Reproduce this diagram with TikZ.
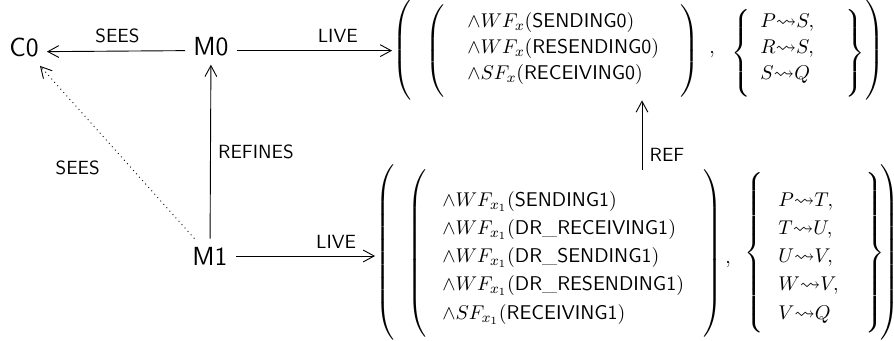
\documentclass[tikz,border=0pt]{standalone}
\usepackage{amssymb}
\usepackage{graphicx}
\usetikzlibrary{arrows.meta}
\newsavebox{\dlbox}
\newcommand{\ldm}[2]{\sbox{\dlbox}{$\nulldelimiterspace=0pt\delimiterfactor=1000\delimitershortfall=0pt\left#1\vcenter{\hbox{\vrule height #2 width 0pt}}\right.$}\resizebox*{\wd\dlbox}{#2}{\usebox{\dlbox}}}
\newcommand{\rdm}[2]{\sbox{\dlbox}{$\nulldelimiterspace=0pt\delimiterfactor=1000\delimitershortfall=0pt\left.\vcenter{\hbox{\vrule height #2 width 0pt}}\right#1$}\resizebox*{\wd\dlbox}{#2}{\usebox{\dlbox}}}
\begin{document}
\begin{tikzpicture}[x=0.55pt,y=-0.55pt,
  obj/.style={font=\sffamily\fontsize{14.4}{17}\selectfont, inner sep=4.4pt},
  lbl/.style={font=\sffamily\fontsize{10.5}{12}\selectfont, inner sep=4pt},
  arr/.style={-{Straight Barb[length=6pt,width=6.5pt]}, line width=0.5pt},
  dl/.style={inner sep=0pt, font=\fontsize{12}{14.4}\selectfont},
  arrn/.style={inner sep=0pt, anchor=west, font=\fontsize{11.3}{14.4}\selectfont}]
\useasboundingbox (0,0) rectangle (894,341);
\node[obj] (c0) at (24,48) {C0};
\node[obj] (m0) at (211,47) {M0};
\node[obj] (m1) at (210,256) {M1};
% top matrix
\node[dl] (tOL) at (402,50) {\ldm{(}{55pt}};
\node[dl] (tIL) at (435,51) {\ldm{(}{50.6pt}};
\node[arrn] (tA) at (467,48) {$\begin{array}{@{}l@{}}
\wedge WF_x(\mathsf{SENDING0})\\
\wedge WF_x(\mathsf{RESENDING0})\\
\wedge SF_x(\mathsf{RECEIVING0})
\end{array}$};
\node[dl] (tIR) at (690,51) {\rdm{)}{50.6pt}};
\node[dl, anchor=base] (tC) at (712,53.5) {$,$};
\node[dl] (tBL) at (741,53.5) {\ldm{\{}{47.9pt}};
\node[arrn] (tB) at (760,48) {$\begin{array}{@{}l@{}}
P{\leadsto}S,\\ R{\leadsto}S,\\ S{\leadsto}Q
\end{array}$};
\node[dl] (tBR) at (855,53.5) {\rdm{\}}{47.9pt}};
\node[dl] (tOR) at (875,50) {\rdm{)}{55pt}};
% bottom matrix
\node[dl] (bOL) at (385,252.5) {\ldm{(}{96.3pt}};
\node[dl] (bIL) at (417,253.5) {\ldm{(}{91.9pt}};
\node[arrn] (bA) at (442,257) {\renewcommand{\arraystretch}{1.08}$\begin{array}{@{}l@{}}
\wedge WF_{x_1}(\mathsf{SENDING1})\\
\wedge WF_{x_1}(\mathsf{DR\_RECEIVING1})\\
\wedge WF_{x_1}(\mathsf{DR\_SENDING1})\\
\wedge WF_{x_1}(\mathsf{DR\_RESENDING1})\\
\wedge SF_{x_1}(\mathsf{RECEIVING1})
\end{array}$};
\node[dl] (bIR) at (713,253.5) {\rdm{)}{91.9pt}};
\node[dl, anchor=base] (bC) at (728,263) {$,$};
\node[dl] (bBL) at (754,253) {\ldm{\{}{88pt}};
\node[arrn] (bB) at (778,257) {\renewcommand{\arraystretch}{1.08}$\begin{array}{@{}l@{}}
P{\leadsto}T,\\ T{\leadsto}U,\\ U{\leadsto}V,\\ W{\leadsto}V,\\ V{\leadsto}Q
\end{array}$};
\node[dl] (bBR) at (875,253) {\rdm{\}}{88pt}};
\node[dl] (bOR) at (890,252.5) {\rdm{)}{96.3pt}};
\coordinate (refx) at (642,0);
\draw[arr] ([yshift=-2pt]m0.west) -- node[lbl, pos=0.49, above] {SEES} ([yshift=-2pt]c0.east);
\draw[arr] ([yshift=-2pt]m0.east) -- node[lbl, pos=0.65, above] {LIVE} ([yshift=-2pt]m0.east -| tOL.west);
\draw[arr] (m1.east) -- node[lbl, pos=0.72, above] {LIVE} (m1.east -| bOL.west);
\draw[arr] (m1) -- node[lbl, pos=0.5, right] {REFINES} (m0);
\draw[arr, dotted] (m1) -- node[lbl, pos=0.41, anchor=east, xshift=-13pt] {SEES} (c0);
\draw[arr] (bIL.north -| refx) -- node[lbl, pos=0.21, right] {REF} (tOL.south -| refx);
\end{tikzpicture}
\end{document}
